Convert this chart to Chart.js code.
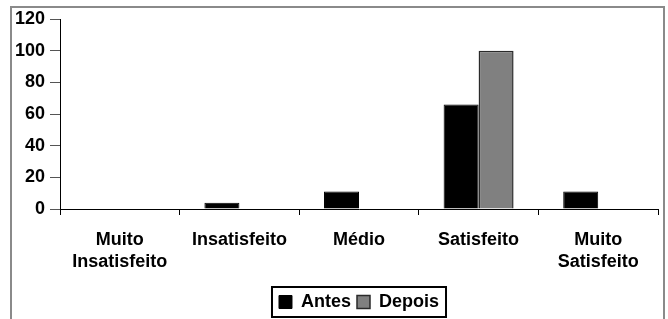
<!DOCTYPE html>
<html>
<head>
<meta charset="utf-8">
<script src="https://cdn.jsdelivr.net/npm/chart.js@4.4.1/dist/chart.umd.min.js"></script>
<style>
  html, body { margin: 0; padding: 0; background: #fff; overflow: hidden; }
  body { width: 668px; height: 319px; position: relative; }
  .frame {
    position: absolute; left: 10px; top: 6px;
    width: 651px; height: 330px;
    border: 2px solid #8a8a8a;
  }
  .frame canvas { display: block; }
</style>
</head>
<body>
<div class="frame">
  <canvas id="chart" width="651" height="315"></canvas>
</div>
<script>
// categories and series
const categories = [['Muito', 'Insatisfeito'], 'Insatisfeito', 'Médio', 'Satisfeito', ['Muito', 'Satisfeito']];
const antes = [0, 4, 11, 66, 11];
const depois = [0, 0, 0, 100, 0];
const yTicks = [0, 20, 40, 60, 80, 100, 120];

const FONT = 'Liberation Sans, Arial, sans-serif';

// box around the legend items
const legendFrame = {
  id: 'legendFrame',
  afterDraw(chart) {
    const boxes = chart.legend && chart.legend.legendHitBoxes;
    if (!boxes || !boxes.length) return;
    let x0 = Infinity, y0 = Infinity, x1 = -Infinity, y1 = -Infinity;
    boxes.forEach(b => {
      x0 = Math.min(x0, b.left); y0 = Math.min(y0, b.top);
      x1 = Math.max(x1, b.left + b.width); y1 = Math.max(y1, b.top + b.height);
    });
    const ctx = chart.ctx;
    ctx.save();
    ctx.strokeStyle = '#000';
    ctx.lineWidth = 2;
    ctx.strokeRect(x0 - 7, y0 - 6, (x1 - x0) + 14, (y1 - y0) + 12);
    ctx.restore();
  }
};

new Chart(document.getElementById('chart'), {
  type: 'bar',
  data: {
    labels: categories,
    datasets: [
      {
        label: 'Antes',
        data: antes,
        backgroundColor: '#000000',
        borderColor: '#000000',
        borderWidth: 1
      },
      {
        label: 'Depois',
        data: depois,
        backgroundColor: '#808080',
        borderColor: '#2a2a2a',
        borderWidth: 1.5
      }
    ]
  },
  options: {
    responsive: false,
    animation: false,
    categoryPercentage: 0.585,
    barPercentage: 1.0,
    layout: { padding: { top: 11, right: 5, bottom: 2, left: 0 } },
    plugins: {
      legend: {
        position: 'bottom',
        fullSize: false,
        labels: {
          boxWidth: 13,
          boxHeight: 13,
          padding: 6,
          color: '#000',
          font: { family: FONT, size: 18, weight: 'bold' },
          useBorderRadius: false
        }
      },
      tooltip: { enabled: false }
    },
    scales: {
      x: {
        offset: true,
        grid: { display: true, drawOnChartArea: false, drawTicks: true, tickLength: 6, color: '#000', offset: true },
        border: { display: true, color: '#000', width: 1 },
        ticks: {
          color: '#000',
          padding: 14,
          maxRotation: 0,
          autoSkip: false,
          font: { family: FONT, size: 18, weight: 'bold', lineHeight: 1.22 }
        },
        afterFit(scale) { scale.height = 78; }
      },
      y: {
        min: 0,
        max: 120,
        grid: { display: true, drawOnChartArea: false, drawTicks: true, tickLength: 10, color: '#555' },
        border: { display: true, color: '#000', width: 1 },
        afterBuildTicks(scale) { scale.ticks = yTicks.map(v => ({ value: v })); },
        ticks: {
          color: '#000',
          padding: 5,
          font: { family: FONT, size: 18, weight: 'bold' }
        },
        afterFit(scale) {
          scale.width = 48;
          scale.paddingTop = 0;
          scale.paddingBottom = 0;
        }
      }
    }
  },
  plugins: [legendFrame]
});
</script>
</body>
</html>
